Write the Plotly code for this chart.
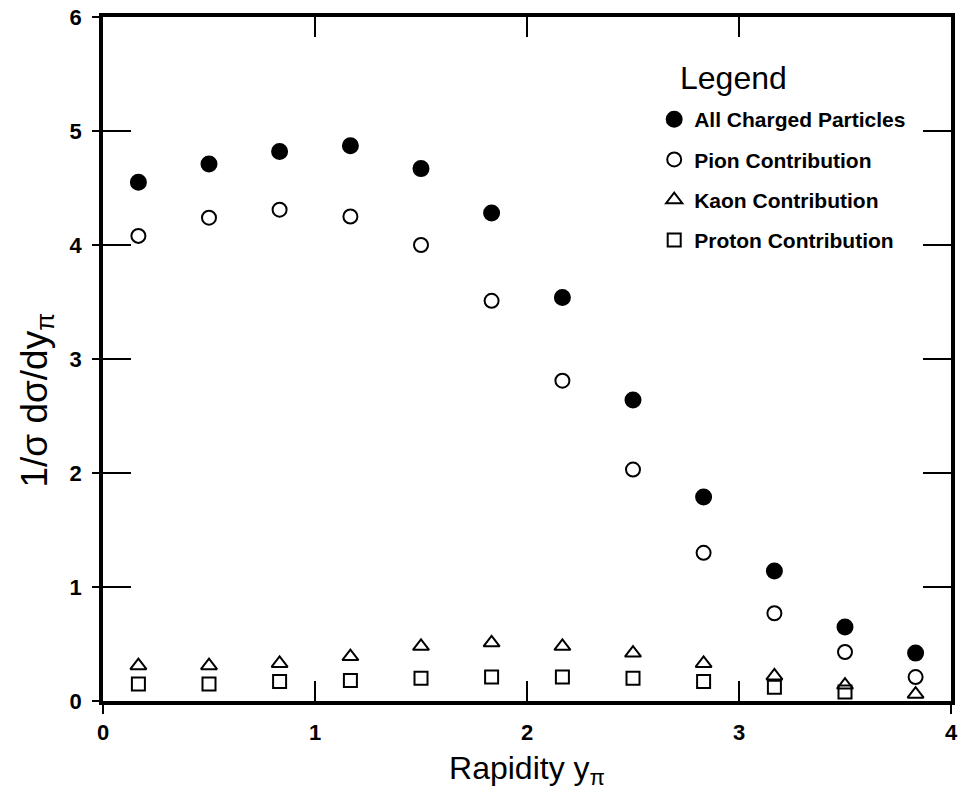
import plotly.graph_objects as go

rapidity = [0.167, 0.5, 0.833, 1.167, 1.5, 1.833, 2.167, 2.5, 2.833, 3.167, 3.5, 3.833]
all_charged = [4.55, 4.71, 4.82, 4.87, 4.67, 4.28, 3.54, 2.64, 1.79, 1.14, 0.65, 0.42]
pion = [4.08, 4.24, 4.31, 4.25, 4.00, 3.51, 2.81, 2.03, 1.30, 0.77, 0.43, 0.21]
kaon = [0.31, 0.31, 0.33, 0.39, 0.48, 0.51, 0.48, 0.42, 0.33, 0.22, 0.14, 0.06]
proton = [0.15, 0.15, 0.17, 0.18, 0.20, 0.21, 0.21, 0.20, 0.17, 0.12, 0.08, None]

x_ticks = [0, 1, 2, 3, 4]
y_ticks = [0, 1, 2, 3, 4, 5, 6]

FONT = "Liberation Sans, Arial, sans-serif"

fig = go.Figure()
series = [
    ("All Charged Particles", all_charged, "circle", 15),
    ("Pion Contribution", pion, "circle-open", 14),
    ("Kaon Contribution", kaon, "triangle-up-open", 14),
    ("Proton Contribution", proton, "square-open", 13),
]
for i, (name, vals, sym, size) in enumerate(series):
    fig.add_trace(go.Scatter(
        x=rapidity, y=vals, mode="markers", name=name, legendgroup=f"g{i}",
        marker=dict(symbol=sym, size=size, color="black", line=dict(color="black", width=2)),
    ))

# invisible trace carrying the outside tick stubs (left side and bottom corners)
fig.add_trace(go.Scatter(x=[None], y=[None], xaxis="x2", yaxis="y2", showlegend=False))

fig.update_layout(
    width=963, height=801,
    margin=dict(l=103, r=5, t=17, b=100),
    paper_bgcolor="white", plot_bgcolor="white",
    font=dict(family=FONT, color="black"),
    showlegend=True,
    legend=dict(
        x=0.650, y=(701 - 99) / 684, xanchor="left", yanchor="top",
        bgcolor="rgba(0,0,0,0)",
        font=dict(size=21, family=FONT, weight="bold"),
        tracegroupgap=10,
    ),
    xaxis=dict(
        range=[0, 4], tickvals=x_ticks, ticktext=[str(v) for v in x_ticks],
        ticks="inside", ticklen=20, tickwidth=1.5, tickcolor="black",
        showline=True, linewidth=3.5, linecolor="black", mirror="ticks",
        showgrid=False, zeroline=False,
        tickfont=dict(size=22, family=FONT, weight="bold"),
        ticklabelstandoff=9,
        title=dict(text="Rapidity y<sub>π</sub>", font=dict(size=32, family=FONT), standoff=13),
    ),
    yaxis=dict(
        range=[0, 6], tickvals=y_ticks, ticktext=[str(v) for v in y_ticks],
        ticks="inside", ticklen=28, tickwidth=1.5, tickcolor="black",
        showline=True, linewidth=3.5, linecolor="black", mirror="ticks",
        showgrid=False, zeroline=False,
        tickfont=dict(size=22, family=FONT, weight="bold"),
        ticklabelstandoff=13,
    ),
    xaxis2=dict(
        range=[0, 4], tickvals=[0, 4], overlaying="x", side="bottom",
        ticks="outside", ticklen=12, tickwidth=1.5, tickcolor="black",
        showticklabels=False, showgrid=False, zeroline=False, showline=False,
    ),
    yaxis2=dict(
        range=[0, 6], tickvals=y_ticks, overlaying="y", side="left",
        ticks="outside", ticklen=10, tickwidth=1.5, tickcolor="black",
        showticklabels=False, showgrid=False, zeroline=False, showline=False,
    ),
    annotations=[
        dict(
            text="1/σ dσ/dy<sub>π</sub>", textangle=-90, showarrow=False,
            xref="paper", yref="paper", x=(36 - 103) / 855, y=(701 - 400) / 684,
            xanchor="center", yanchor="middle",
            font=dict(size=37, family=FONT, color="black"),
        ),
        dict(
            text="Legend", showarrow=False,
            xref="paper", yref="paper", x=(683 - 103) / 855, y=(701 - 78) / 684,
            xanchor="left", yanchor="middle",
            font=dict(size=32, family=FONT, color="black"),
        ),
    ],
)

fig.write_html("out.html")
